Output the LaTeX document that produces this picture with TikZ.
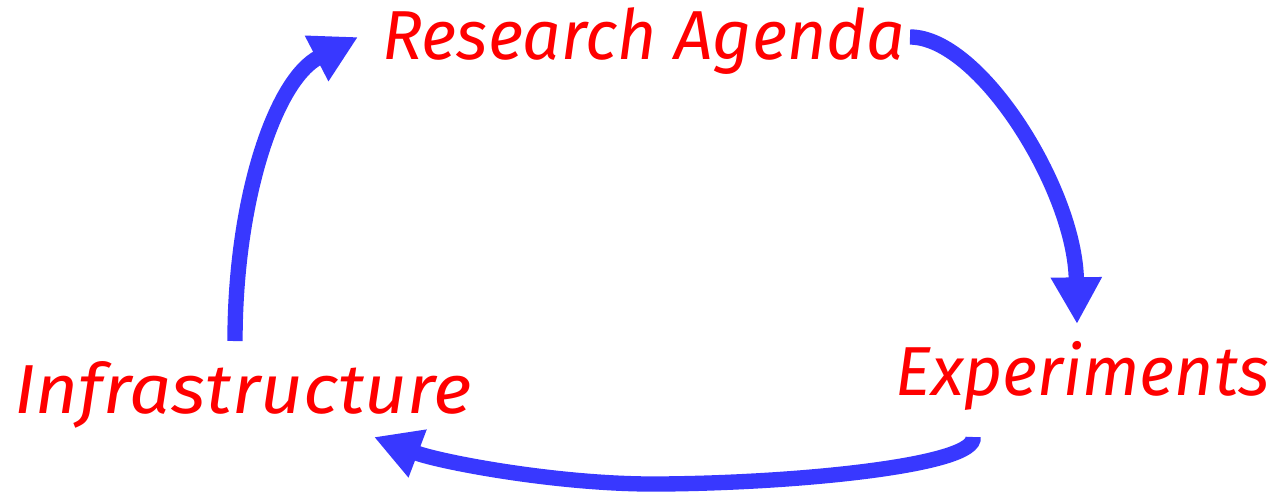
\documentclass[tikz,border=0pt]{standalone}
\usepackage{fontspec}
\setmainfont{Fira Sans}
\usetikzlibrary{arrows.meta}
\definecolor{arrowblue}{RGB}{56,56,255}
\definecolor{labelred}{RGB}{255,0,0}
\tikzset{
  lbl/.style={anchor=base west, inner sep=0pt, text=labelred, font=\fontsize{52pt}{60pt}\selectfont\itshape},
  cyc/.style={draw=arrowblue, line width=11.5pt, line cap=butt,
    -{Triangle[width=36pt,length=35pt]}}
}
\begin{document}
\begin{tikzpicture}[x=0.75pt,y=-0.75pt]
\useasboundingbox (0,0) rectangle (1276,492);
\node[lbl] (ra) at (382,60) {\scalebox{0.978}[1]{Research Agenda}};
\node[lbl] (ex) at (895,395) {\scalebox{0.976}[1]{Experiments}};
\node[lbl] (in) at (14,413) {\scalebox{1.07}[1]{Infrastructure}};
\coordinate (a1s) at (910,37);
\coordinate (a1e) at (1077,324);
\coordinate (a2s) at (973,437);
\coordinate (a2m) at (660,484);
\coordinate (a2e) at (374,437);
\coordinate (a3s) at (235,341);
\coordinate (a3e) at (358,37);
\draw[cyc] (a1s) .. controls (980,37) and (1075,190) .. (a1e);
\draw[cyc] (a2s) .. controls (978,465) and (800,483) .. (a2m) .. controls (560,485) and (440,462) .. (a2e);
\draw[cyc] (a3s) .. controls (235,200) and (275,80) .. (a3e);
\end{tikzpicture}
\end{document}
